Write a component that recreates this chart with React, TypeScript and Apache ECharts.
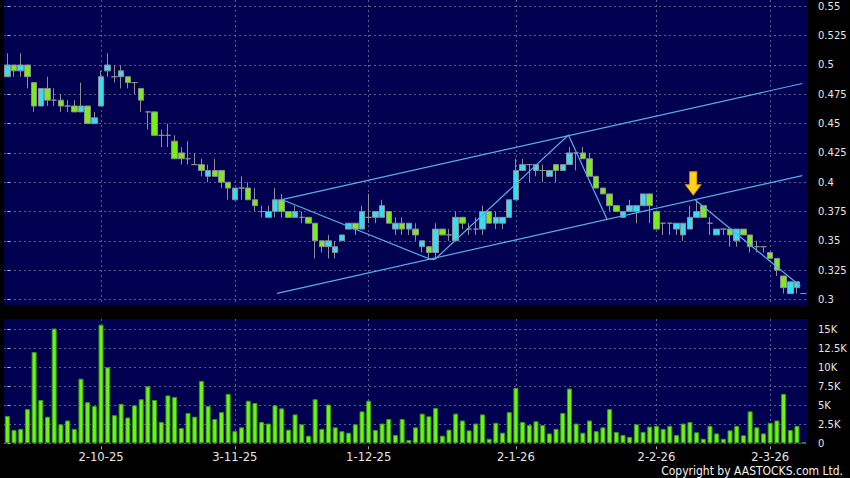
import React, { useEffect, useRef } from "react";
import * as echarts from "echarts";

// ---------- categories (trading days) ----------
const startDate = "2025-09-11";
const endDate = "2026-03-09";
const holidays = ["2025-10-01", "2025-10-07", "2025-10-29", "2025-12-25", "2026-01-01", "2026-02-17", "2026-02-18", "2026-02-19"];

function buildTradingDays(): string[] {
  const out: string[] = [];
  const d = new Date(startDate + "T00:00:00Z");
  const end = new Date(endDate + "T00:00:00Z");
  while (d.getTime() <= end.getTime()) {
    const iso = d.toISOString().slice(0, 10);
    const wd = d.getUTCDay();
    if (wd !== 0 && wd !== 6 && holidays.indexOf(iso) < 0) out.push(iso);
    d.setUTCDate(d.getUTCDate() + 1);
  }
  return out;
}
const categories = buildTradingDays();

// ---------- price data ----------
const opens = [
  0.49, 0.50, 0.495, 0.50, 0.485, 0.465, 0.48, 0.47, 0.47, 0.465,
  0.465, 0.46, 0.465, 0.45, 0.465, 0.495, 0.49, 0.49, 0.49, 0.485,
  0.48, 0.46, 0.46, 0.44, 0.44, 0.435, 0.425, 0.42, 0.415, 0.415,
  0.405, 0.41, 0.41, 0.40, 0.385, 0.395, 0.395, 0.385, 0.375, 0.37,
  0.375, 0.385, 0.375, 0.37, 0.37, 0.37, 0.365, 0.35, 0.345, 0.34,
  0.35, 0.36, 0.365, 0.36, 0.37, 0.37, 0.37, 0.375, 0.36, 0.365,
  0.36, 0.36, 0.345, 0.345, 0.34, 0.36, 0.355, 0.35, 0.37, 0.36,
  0.36, 0.36, 0.375, 0.365, 0.365, 0.37, 0.385, 0.41, 0.415, 0.41,
  0.41, 0.405, 0.415, 0.41, 0.415, 0.425, 0.425, 0.42, 0.405, 0.395,
  0.39, 0.38, 0.37, 0.375, 0.375, 0.38, 0.39, 0.375, 0.365, 0.365,
  0.36, 0.355, 0.36, 0.37, 0.38, 0.365, 0.355, 0.36, 0.36, 0.35,
  0.36, 0.355, 0.345, 0.345, 0.34, 0.335, 0.32, 0.305, 0.31, 0.305,
];
const closes = [
  0.50, 0.495, 0.50, 0.49, 0.465, 0.48, 0.47, 0.47, 0.465, 0.465,
  0.46, 0.465, 0.45, 0.455, 0.49, 0.50, 0.49, 0.495, 0.485, 0.485,
  0.47, 0.46, 0.44, 0.44, 0.44, 0.42, 0.42, 0.42, 0.415, 0.41,
  0.41, 0.405, 0.40, 0.395, 0.395, 0.395, 0.385, 0.38, 0.375, 0.375,
  0.385, 0.375, 0.37, 0.375, 0.37, 0.365, 0.35, 0.345, 0.35, 0.345,
  0.355, 0.365, 0.36, 0.375, 0.37, 0.375, 0.38, 0.365, 0.365, 0.36,
  0.365, 0.355, 0.35, 0.34, 0.36, 0.355, 0.355, 0.37, 0.365, 0.36,
  0.36, 0.375, 0.365, 0.37, 0.37, 0.385, 0.41, 0.415, 0.415, 0.415,
  0.41, 0.41, 0.41, 0.415, 0.425, 0.425, 0.42, 0.405, 0.395, 0.39,
  0.38, 0.375, 0.375, 0.38, 0.38, 0.39, 0.38, 0.36, 0.365, 0.365,
  0.365, 0.365, 0.37, 0.375, 0.37, 0.365, 0.36, 0.36, 0.355, 0.36,
  0.355, 0.345, 0.345, 0.345, 0.335, 0.325, 0.31, 0.315, 0.315, 0.305,
];
const lows = [
  0.49, 0.49, 0.49, 0.48, 0.46, 0.465, 0.465, 0.465, 0.46, 0.46,
  0.46, 0.46, 0.45, 0.45, 0.465, 0.49, 0.485, 0.48, 0.48, 0.475,
  0.46, 0.445, 0.44, 0.43, 0.43, 0.42, 0.415, 0.415, 0.415, 0.405,
  0.40, 0.405, 0.395, 0.385, 0.385, 0.385, 0.385, 0.375, 0.37, 0.37,
  0.37, 0.37, 0.37, 0.37, 0.365, 0.365, 0.335, 0.34, 0.335, 0.335,
  0.35, 0.36, 0.355, 0.36, 0.365, 0.365, 0.37, 0.365, 0.355, 0.355,
  0.355, 0.35, 0.34, 0.335, 0.335, 0.355, 0.35, 0.35, 0.36, 0.355,
  0.355, 0.355, 0.365, 0.36, 0.36, 0.37, 0.385, 0.41, 0.40, 0.405,
  0.40, 0.405, 0.40, 0.41, 0.415, 0.41, 0.42, 0.405, 0.395, 0.39,
  0.375, 0.375, 0.37, 0.375, 0.365, 0.38, 0.365, 0.36, 0.355, 0.355,
  0.355, 0.35, 0.36, 0.37, 0.37, 0.355, 0.355, 0.355, 0.345, 0.345,
  0.355, 0.34, 0.34, 0.34, 0.335, 0.32, 0.305, 0.305, 0.305, 0.305,
];
const highs = [
  0.51, 0.50, 0.51, 0.50, 0.485, 0.48, 0.49, 0.48, 0.475, 0.47,
  0.47, 0.485, 0.465, 0.46, 0.495, 0.51, 0.50, 0.50, 0.49, 0.485,
  0.48, 0.46, 0.46, 0.445, 0.45, 0.44, 0.43, 0.435, 0.425, 0.42,
  0.415, 0.42, 0.41, 0.40, 0.395, 0.405, 0.40, 0.395, 0.38, 0.38,
  0.395, 0.39, 0.375, 0.38, 0.375, 0.37, 0.365, 0.35, 0.355, 0.35,
  0.355, 0.365, 0.365, 0.38, 0.39, 0.375, 0.385, 0.375, 0.37, 0.37,
  0.365, 0.365, 0.35, 0.345, 0.365, 0.36, 0.36, 0.375, 0.37, 0.365,
  0.37, 0.38, 0.375, 0.375, 0.37, 0.385, 0.42, 0.42, 0.415, 0.415,
  0.415, 0.41, 0.415, 0.415, 0.43, 0.425, 0.43, 0.425, 0.405, 0.395,
  0.39, 0.38, 0.375, 0.385, 0.38, 0.39, 0.39, 0.375, 0.365, 0.365,
  0.365, 0.365, 0.38, 0.385, 0.38, 0.37, 0.36, 0.36, 0.36, 0.36,
  0.36, 0.355, 0.35, 0.345, 0.34, 0.335, 0.32, 0.315, 0.315, 0.305,
];

// ---------- volume data (thousands of shares) ----------
const volumesK = [
  3.6, 1.75, 1.9, 4.5, 12.0, 5.7, 3.5, 15.1, 2.5, 3.0,
  1.9, 8.5, 5.4, 4.9, 15.6, 10.0, 3.7, 5.2, 3.4, 5.0,
  5.8, 7.5, 5.7, 2.8, 6.3, 6.1, 2.0, 4.0, 3.5, 8.2,
  4.9, 3.2, 4.1, 6.5, 1.6, 2.1, 5.6, 5.3, 2.8, 2.6,
  5.0, 4.6, 1.8, 3.8, 2.5, 1.0, 5.8, 1.9, 5.1, 2.1,
  1.6, 1.4, 2.5, 4.2, 5.6, 1.75, 2.6, 3.2, 1.1, 3.2,
  0.45, 2.1, 3.9, 3.55, 4.65, 1.0, 1.8, 3.9, 3.0, 1.7,
  2.6, 3.8, 0.6, 2.7, 1.4, 4.1, 7.3, 2.8, 2.4, 2.9,
  2.4, 1.3, 1.9, 4.0, 7.2, 2.6, 1.4, 3.0, 1.6, 2.1,
  4.5, 1.5, 1.1, 0.85, 2.5, 1.5, 2.2, 2.3, 1.9, 2.3,
  1.1, 2.6, 2.8, 1.45, 0.6, 2.3, 1.3, 0.6, 1.7, 2.3,
  1.05, 4.2, 2.1, 1.3, 2.7, 3.0, 6.5, 1.75, 2.3, 0.1,
];

// ---------- tick labels ----------
const priceTicks = [0.3, 0.325, 0.35, 0.375, 0.4, 0.425, 0.45, 0.475, 0.5, 0.525, 0.55];
const volumeTicks = [0, 2500, 5000, 7500, 10000, 12500, 15000];
const priceAxisMin = 0.29522;
const priceAxisMax = 0.55546;
const volumeAxisMax = 16350;

// ---------- drawn annotations, [day index, price] ----------
const upperChannel = [[41.0, 0.3852], [118.8, 0.4842]];
const lowerChannel = [[40.3, 0.3051], [118.8, 0.4056]];
const zigzagUp = [[41.0, 0.3852], [63.2, 0.3342], [63.9, 0.3342], [83.85, 0.4403], [89.6, 0.3686]];
const zigzagDown = [[102.8, 0.3848], [118.5, 0.3114]];
const arrowPoint = [[102.5, 0.3891]];

const copyright = "Copyright by AASTOCKS.com Ltd.";

// ---------- helpers ----------
const monthStarts: number[] = categories
  .map((c, i) => (i > 0 && c.slice(0, 7) !== categories[i - 1].slice(0, 7) ? i : -1))
  .filter((i) => i >= 0);

function dateLabel(iso: string): string {
  const [y, m, d] = iso.split("-");
  return `${parseInt(d, 10)}-${parseInt(m, 10)}-${y.slice(2)}`;
}

export default function App() {
  const ref = useRef<HTMLDivElement>(null);

  useEffect(() => {
    if (!ref.current) return;
    const chart = echarts.init(ref.current, undefined, { renderer: "svg" });

    const gridLine = { color: "#5c5c92", type: [2, 3] as any, width: 1 };
    const labelColor = "#e4e4e4";
    const fontFamily = "'DejaVu Sans', Verdana, sans-serif";
    const lastIdx = categories.length - 0.5;

    const candleData = opens.map((o, i) => [o, closes[i], lows[i], highs[i]]);
    const volumeData = volumesK.map((v) => Math.round(v * 1000));

    const lineStyle = { color: "#58aee6", width: 1.2 };

    const option: any = {
      animation: false,
      backgroundColor: "#000000",
      textStyle: { fontFamily },
      grid: [
        { left: 4, right: 43, top: 0, height: 305, containLabel: false, outerBoundsMode: "none" },
        { left: 4, right: 43, top: 319, height: 124.3, containLabel: false, outerBoundsMode: "none" },
      ],
      xAxis: [
        { type: "category", gridIndex: 0, data: categories, show: false },
        { type: "category", gridIndex: 1, data: categories, show: false },
        {
          type: "value", gridIndex: 0, min: -0.5, max: lastIdx,
          axisLine: { show: false },
          axisTick: { show: false, customValues: monthStarts },
          axisLabel: { show: false, customValues: monthStarts },
          splitLine: { show: true, lineStyle: gridLine },
        },
        {
          type: "value", gridIndex: 1, min: -0.5, max: lastIdx, position: "bottom", offset: 3,
          axisLine: { show: false },
          axisTick: { show: true, length: 3, customValues: monthStarts, lineStyle: { color: "#a8a8a8" } },
          axisLabel: {
            show: true, customValues: monthStarts, margin: 5, color: labelColor, fontSize: 11.6, fontFamily,
            formatter: (v: number) => dateLabel(categories[Math.round(v)] || ""),
          },
          splitLine: { show: true, lineStyle: gridLine },
        },
      ],
      yAxis: [
        {
          type: "value", gridIndex: 0, position: "right", min: priceAxisMin, max: priceAxisMax, offset: 3,
          axisLine: { show: false },
          axisTick: { show: true, length: 3, customValues: priceTicks, lineStyle: { color: "#b8b8b8" } },
          axisLabel: {
            customValues: priceTicks, margin: 8, color: labelColor, fontSize: 10, fontFamily,
            formatter: (v: number) => String(parseFloat(v.toFixed(3))),
          },
          splitLine: { show: true, lineStyle: gridLine },
        },
        {
          type: "value", gridIndex: 1, position: "right", min: 0, max: volumeAxisMax, offset: 3,
          axisLine: { show: false },
          axisTick: { show: true, length: 3, customValues: volumeTicks, lineStyle: { color: "#b8b8b8" } },
          axisLabel: {
            customValues: volumeTicks, margin: 8, color: labelColor, fontSize: 10, fontFamily,
            formatter: (v: number) => (v === 0 ? "0" : `${v / 1000}K`),
          },
          splitLine: { show: true, lineStyle: gridLine },
        },
      ],
      graphic: {
        elements: [
          { type: "rect", silent: true, z: -10, shape: { x: 4, y: 0, width: 803, height: 305 }, style: { fill: "#000050" } },
          { type: "rect", silent: true, z: -10, shape: { x: 4, y: 319, width: 803, height: 124.5 }, style: { fill: "#000050" } },
          {
            type: "text", silent: true, z: 10, x: 843, y: 471,
            style: {
              text: copyright, fill: "#f2f2f2", fontSize: 12,
              fontFamily: "'Liberation Sans Narrow', 'DejaVu Sans Condensed', 'Liberation Sans', sans-serif",
              align: "right", verticalAlign: "middle",
            },
          },
        ],
      },
      series: [
        {
          type: "candlestick", xAxisIndex: 0, yAxisIndex: 0, data: candleData, barWidth: 6,
          itemStyle: {
            color: "#35dcf2", color0: "#79ec1e",
            borderColor: "#8e8e8e", borderColor0: "#8e8e8e", borderWidth: 1,
          },
          z: 2,
        },
        {
          type: "bar", xAxisIndex: 1, yAxisIndex: 1, data: volumeData, barWidth: 5,
          itemStyle: { color: "#6cf514", borderColor: "#3a9a12", borderWidth: 1 },
        },
        { type: "line", xAxisIndex: 2, yAxisIndex: 0, data: upperChannel, symbol: "none", lineStyle, silent: true, z: 4 },
        { type: "line", xAxisIndex: 2, yAxisIndex: 0, data: lowerChannel, symbol: "none", lineStyle, silent: true, z: 4 },
        { type: "line", xAxisIndex: 2, yAxisIndex: 0, data: zigzagUp, symbol: "none", lineStyle, silent: true, z: 4 },
        { type: "line", xAxisIndex: 2, yAxisIndex: 0, data: zigzagDown, symbol: "none", lineStyle, silent: true, z: 4 },
        {
          type: "scatter", xAxisIndex: 2, yAxisIndex: 0, data: arrowPoint, silent: true, z: 6,
          symbol: "path://M4 0 L11 0 L11 13 L15 13 L7.5 23 L0 13 L4 13 Z",
          symbolSize: [15, 23], symbolOffset: [0, "-50%"],
          itemStyle: {
            color: "#ffd21e", opacity: 1,
            borderColor: "#f5a300", borderWidth: 1,
          },
        },
      ],
    };

    chart.setOption(option);
    return () => chart.dispose();
  }, []);

  return (
    <div
      ref={ref}
      style={{ position: "absolute", left: 0, top: 0, width: 850, height: 478 }}
    />
  );
}
